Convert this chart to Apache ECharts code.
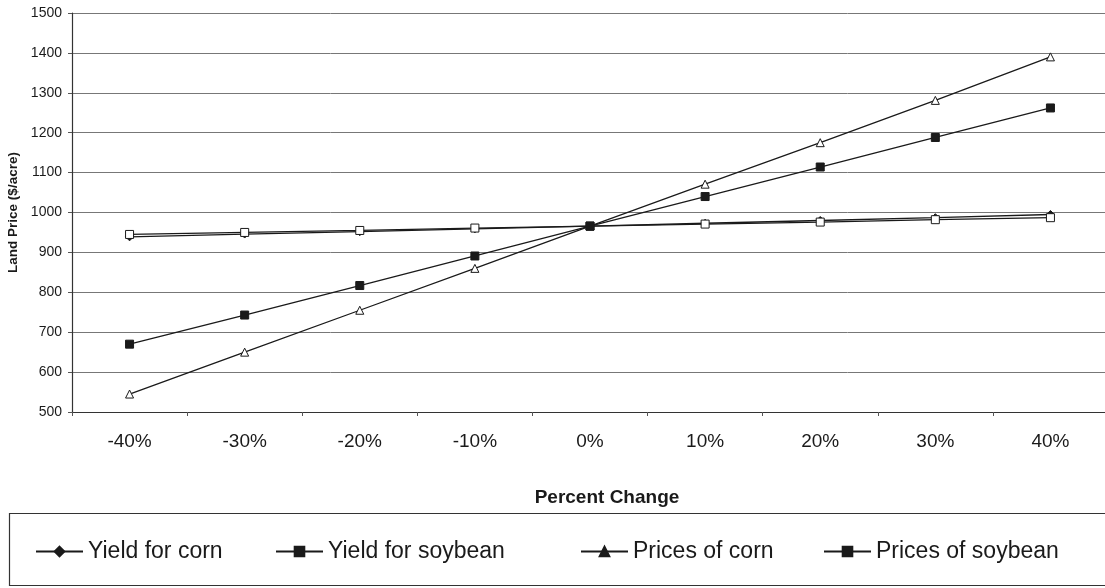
<!DOCTYPE html>
<html>
<head>
<meta charset="utf-8">
<script src="https://cdn.jsdelivr.net/npm/echarts@6/dist/echarts.min.js"></script>
<style>
  html, body { margin: 0; padding: 0; background: #fff; }
  #chart { width: 1105px; height: 588px; }
</style>
</head>
<body>
<div id="chart"></div>
<script>
// Percent change in each driver and the resulting land price ($/acre)
const categories = ['-40%', '-30%', '-20%', '-10%', '0%', '10%', '20%', '30%', '40%'];
const yieldCorn = [939, 946, 952, 959, 966, 973, 980, 987, 995];
const yieldSoybean = [945, 950, 955, 961, 966, 971, 976, 982, 987];
const pricesCorn = [545, 650, 755, 860, 966, 1071, 1175, 1281, 1390];
const pricesSoybean = [670, 743, 817, 891, 966, 1040, 1114, 1188, 1262];
const yTicks = { min: 500, max: 1500, interval: 100 };

const FONT = '"Liberation Sans", Arial, sans-serif';
const INK = '#1a1a1a';

function lineSeries(name, data, symbol, size, fill, z) {
  return {
    name, type: 'line', data, symbol, symbolSize: size, z,
    showAllSymbol: true,
    lineStyle: { color: INK, width: 1.3 },
    itemStyle: { color: fill, borderColor: INK, borderWidth: 1 },
    emphasis: { disabled: true },
    animation: false
  };
}

function legendAt(left, name) {
  return {
    left, top: 540, padding: 0, itemWidth: 47, itemHeight: 12, itemGap: 0,
    textStyle: { fontFamily: FONT, fontSize: 23, color: INK },
    data: [{ name, itemStyle: { color: INK, borderColor: INK } }],
    selectedMode: false
  };
}

const chart = echarts.init(document.getElementById('chart'), null, { renderer: 'canvas' });
chart.setOption({
  backgroundColor: '#ffffff',
  animation: false,
  grid: { left: 72, right: -3, top: 13, bottom: 176, containLabel: false, outerBoundsMode: 'none' },
  xAxis: {
    type: 'category', data: categories, boundaryGap: true,
    axisLine: { lineStyle: { color: '#333', width: 1.2 } },
    axisTick: { show: true, length: 4, lineStyle: { color: '#555' } },
    axisLabel: { fontFamily: FONT, fontSize: 19, color: INK, margin: 20 }
  },
  yAxis: {
    type: 'value', min: yTicks.min, max: yTicks.max, interval: yTicks.interval,
    name: 'Land Price ($/acre)', nameLocation: 'middle', nameGap: 51,
    nameTextStyle: { fontFamily: FONT, fontSize: 13.5, fontWeight: 'bold', color: INK },
    axisLine: { show: true, lineStyle: { color: '#333', width: 1.2 } },
    axisTick: { show: true, length: 4, lineStyle: { color: '#555' } },
    axisLabel: { fontFamily: FONT, fontSize: 14, color: INK, margin: 10, formatter: v => String(v) },
    splitLine: { show: true, lineStyle: { color: '#777', width: 1 } }
  },
  legend: [
    legendAt(35, 'Yield for corn'),
    legendAt(275, 'Yield for soybean'),
    legendAt(580, 'Prices of corn'),
    legendAt(823, 'Prices of soybean')
  ],
  graphic: [
    {
      type: 'text', x: 607, y: 498, z: 10,
      style: {
        text: 'Percent Change', fontFamily: FONT, fontSize: 19, fontWeight: 'bold', fill: INK,
        align: 'center', verticalAlign: 'middle'
      }
    },
    {
      type: 'rect', z: 1,
      shape: { x: 9.5, y: 513.5, width: 1105, height: 72 },
      style: { fill: 'none', stroke: '#333', lineWidth: 1.2 }
    }
  ],
  series: [
    lineSeries('Yield for corn', yieldCorn, 'diamond', 8, INK, 2),
    lineSeries('Yield for soybean', yieldSoybean, 'rect', 8, '#ffffff', 3),
    lineSeries('Prices of corn', pricesCorn, 'triangle', 8, '#ffffff', 4),
    lineSeries('Prices of soybean', pricesSoybean, 'rect', 8, INK, 5)
  ]
});
</script>
</body>
</html>
